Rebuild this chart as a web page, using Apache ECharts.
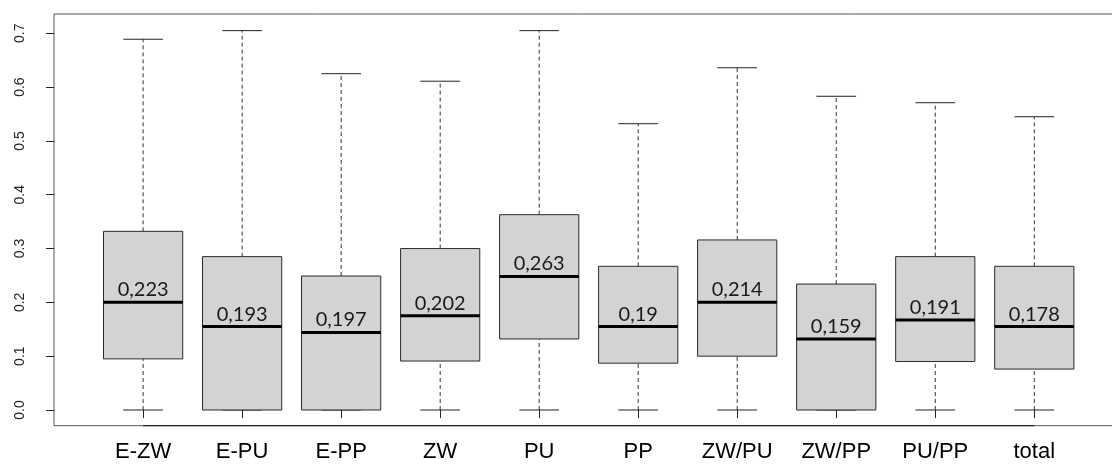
<!DOCTYPE html>
<html>
<head>
<meta charset="utf-8">
<script src="https://cdn.jsdelivr.net/npm/echarts@6/dist/echarts.min.js"></script>
<style>
  html, body { margin: 0; padding: 0; background: #fff; }
  #chart { width: 1112px; height: 464px; }
</style>
</head>
<body>
<div id="chart"></div>
<script>
// Groups shown along the bottom axis
const categories = ['E-ZW', 'E-PU', 'E-PP', 'ZW', 'PU', 'PP', 'ZW/PU', 'ZW/PP', 'PU/PP', 'total'];

// Five-number summaries per group
const whiskerLow  = [0, 0, 0, 0, 0, 0, 0, 0, 0, 0];
const quartile1   = [0.095, 0, 0, 0.091, 0.132, 0.087, 0.100, 0, 0.090, 0.076];
const medians     = [0.200, 0.155, 0.144, 0.175, 0.248, 0.155, 0.200, 0.132, 0.167, 0.155];
const quartile3   = [0.332, 0.285, 0.249, 0.300, 0.363, 0.267, 0.316, 0.234, 0.285, 0.267];
const whiskerHigh = [0.689, 0.705, 0.625, 0.611, 0.705, 0.532, 0.636, 0.583, 0.571, 0.545];

// Group means, printed above each median line
const means = [0.223, 0.193, 0.197, 0.202, 0.263, 0.19, 0.214, 0.159, 0.191, 0.178];

// Axis ticks
const yTicks = [0.0, 0.1, 0.2, 0.3, 0.4, 0.5, 0.6, 0.7];
const xTicks = [1, 2, 3, 4, 5, 6, 7, 8, 9, 10];

const boxData = categories.map((c, i) => [
  i + 1, whiskerLow[i], quartile1[i], medians[i], quartile3[i], whiskerHigh[i], means[i]
]);

const fmtMean = v => String(v).replace('.', ',');

function renderBox(params, api) {
  const x = api.value(0);
  const lo = api.coord([x, api.value(1)]);
  const q1 = api.coord([x, api.value(2)]);
  const md = api.coord([x, api.value(3)]);
  const q3 = api.coord([x, api.value(4)]);
  const hi = api.coord([x, api.value(5)]);
  const boxW = api.size([0.8, 0])[0];
  const capW = api.size([0.4, 0])[0];
  const cx = lo[0];
  const dash = { stroke: '#333', lineWidth: 1, lineDash: [4, 3] };
  const solid = { stroke: '#222', lineWidth: 1 };
  return {
    type: 'group',
    children: [
      { type: 'line', shape: { x1: cx, y1: q3[1], x2: cx, y2: hi[1] }, style: dash },
      { type: 'line', shape: { x1: cx, y1: lo[1], x2: cx, y2: q1[1] }, style: dash },
      { type: 'line', shape: { x1: cx - capW / 2, y1: hi[1], x2: cx + capW / 2, y2: hi[1] }, style: solid },
      { type: 'line', shape: { x1: cx - capW / 2, y1: lo[1], x2: cx + capW / 2, y2: lo[1] }, style: solid },
      { type: 'rect',
        shape: { x: cx - boxW / 2, y: q3[1], width: boxW, height: q1[1] - q3[1] },
        style: { fill: '#d3d3d3', stroke: '#2a2a2a', lineWidth: 1 } },
      { type: 'line',
        shape: { x1: cx - boxW / 2, y1: md[1], x2: cx + boxW / 2, y2: md[1] },
        style: { stroke: '#000', lineWidth: 3 } },
      { type: 'text',
        x: cx, y: md[1] - 12.5,
        style: {
          text: fmtMean(api.value(6)),
          fill: '#1a1a1a',
          font: '20px Lato',
          textAlign: 'center',
          textVerticalAlign: 'middle'
        } }
    ]
  };
}

// Bottom axis line spanning the first to the last tick
function renderAxisLine(params, api) {
  const a = api.coord([xTicks[0], -0.0292]);
  const b = api.coord([xTicks[xTicks.length - 1], -0.0292]);
  return {
    type: 'line',
    shape: { x1: a[0], y1: a[1], x2: b[0], y2: b[1] },
    style: { stroke: '#111', lineWidth: 1 }
  };
}

const chart = echarts.init(document.getElementById('chart'), null, { renderer: 'canvas' });
chart.setOption({
  animation: false,
  backgroundColor: '#fff',
  grid: {
    left: 54, right: -11.4, top: 14, bottom: 38.3,
    show: true, borderColor: '#555', borderWidth: 1,
    outerBoundsMode: 'none'
  },
  xAxis: {
    type: 'value',
    min: 0.1, max: 10.9,
    axisLine: { show: false },
    splitLine: { show: false },
    axisTick: { show: true, customValues: xTicks, length: 8, lineStyle: { color: '#222' } },
    axisLabel: {
      show: true,
      customValues: xTicks,
      formatter: v => categories[Math.round(v) - 1],
      margin: 15,
      color: '#000',
      fontSize: 22,
      fontFamily: 'Liberation Sans'
    }
  },
  yAxis: {
    type: 'value',
    min: -0.0292, max: 0.7359,
    axisLine: { show: false },
    splitLine: { show: false },
    axisTick: { show: true, customValues: yTicks, length: 8, lineStyle: { color: '#222' } },
    axisLabel: {
      show: true,
      customValues: yTicks,
      formatter: v => v.toFixed(1),
      rotate: 90,
      align: 'center',
      verticalAlign: 'middle',
      margin: 34,
      color: '#222',
      fontSize: 14,
      fontFamily: 'Liberation Sans'
    }
  },
  series: [
    {
      type: 'custom',
      renderItem: renderBox,
      data: boxData,
      encode: { x: 0, y: [1, 5] },
      clip: false
    },
    {
      type: 'custom',
      renderItem: renderAxisLine,
      data: [[1, 0]],
      clip: false,
      silent: true
    }
  ]
});
</script>
</body>
</html>
